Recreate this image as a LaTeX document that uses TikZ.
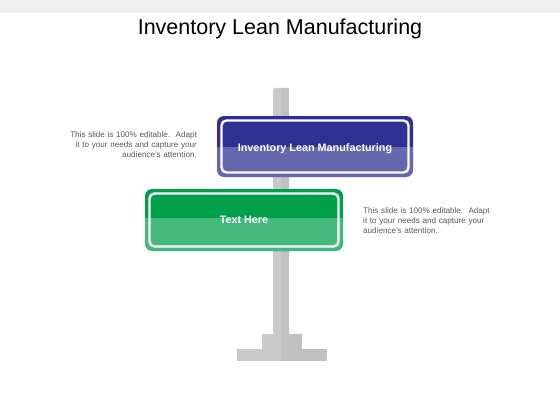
\documentclass[tikz,border=0pt]{standalone}
\usepackage{fontspec}
\setmainfont{Liberation Sans}
\definecolor{stripgray}{HTML}{F0F0F0}
\definecolor{polelight}{HTML}{CACACA}
\definecolor{poledark}{HTML}{C1C1C1}
\definecolor{signblue}{HTML}{2E3192}
\definecolor{signgreen}{HTML}{00A04B}
\definecolor{bodygray}{HTML}{595959}
\begin{document}
\begin{tikzpicture}[x=1pt,y=-1pt,
  bodytext/.style={text=bodygray,font=\fontsize{8.1}{10.2}\selectfont,inner sep=0pt,text width=135pt},
  signtext/.style={text=white,font=\fontsize{10.8}{12}\selectfont\bfseries,inner sep=0pt},
  whiteline/.style={draw=white,line width=2.4pt,rounded corners=5pt}]
\useasboundingbox (0,0) rectangle (560,420);
\fill[white] (0,0) rectangle (560,420);
\fill[stripgray] (0,0) rectangle (560,13);
\node[font=\fontsize{21.5}{24}\selectfont,inner sep=0pt,anchor=base] (title) at (280,35) {Inventory Lean Manufacturing};
% pole and base
\fill[polelight,rounded corners=2pt] (273,349) -- (273,88) -- (289,88) -- (289,349) -- cycle;
\fill[poledark] (281,88.5) rectangle (289,349);
\fill[polelight] (262,334) rectangle (302,349);
\fill[polelight] (237,349) rectangle (327,361);
\fill[poledark] (281,334) rectangle (302,349);
\fill[poledark] (281,349) rectangle (327,361);
% blue sign
\fill[signblue,rounded corners=7pt] (217,116) rectangle (413,177);
\draw[whiteline] (221.5,120.5) rectangle (408.5,172.5);
\begin{scope}
\clip[rounded corners=7pt] (217,116) rectangle (413,177);
\fill[white,opacity=0.27] (217,147) rectangle (413,177);
\end{scope}
\node[signtext,anchor=base] (bluetext) at (315,151) {Inventory Lean Manufacturing};
% green sign
\fill[signgreen,rounded corners=7pt] (145,189) rectangle (343,251);
\draw[whiteline] (149.5,193.5) rectangle (338.5,246.5);
\begin{scope}
\clip[rounded corners=7pt] (145,189) rectangle (343,251);
\fill[white,opacity=0.27] (145,218) rectangle (343,251);
\end{scope}
\node[signtext,anchor=base] (greentext) at (244,223) {Text Here};
% body texts
\node[bodytext,align=right,anchor=north east] (lefttext) at (197,131.5) {This slide is 100\% editable.\ \ Adapt\\ it to your needs and capture your\\ audience's attention.};
\node[bodytext,align=left,anchor=north west] (righttext) at (363,207) {This slide is 100\% editable.\ \ Adapt\\ it to your needs and capture your\\ audience's attention.};
\end{tikzpicture}
\end{document}
